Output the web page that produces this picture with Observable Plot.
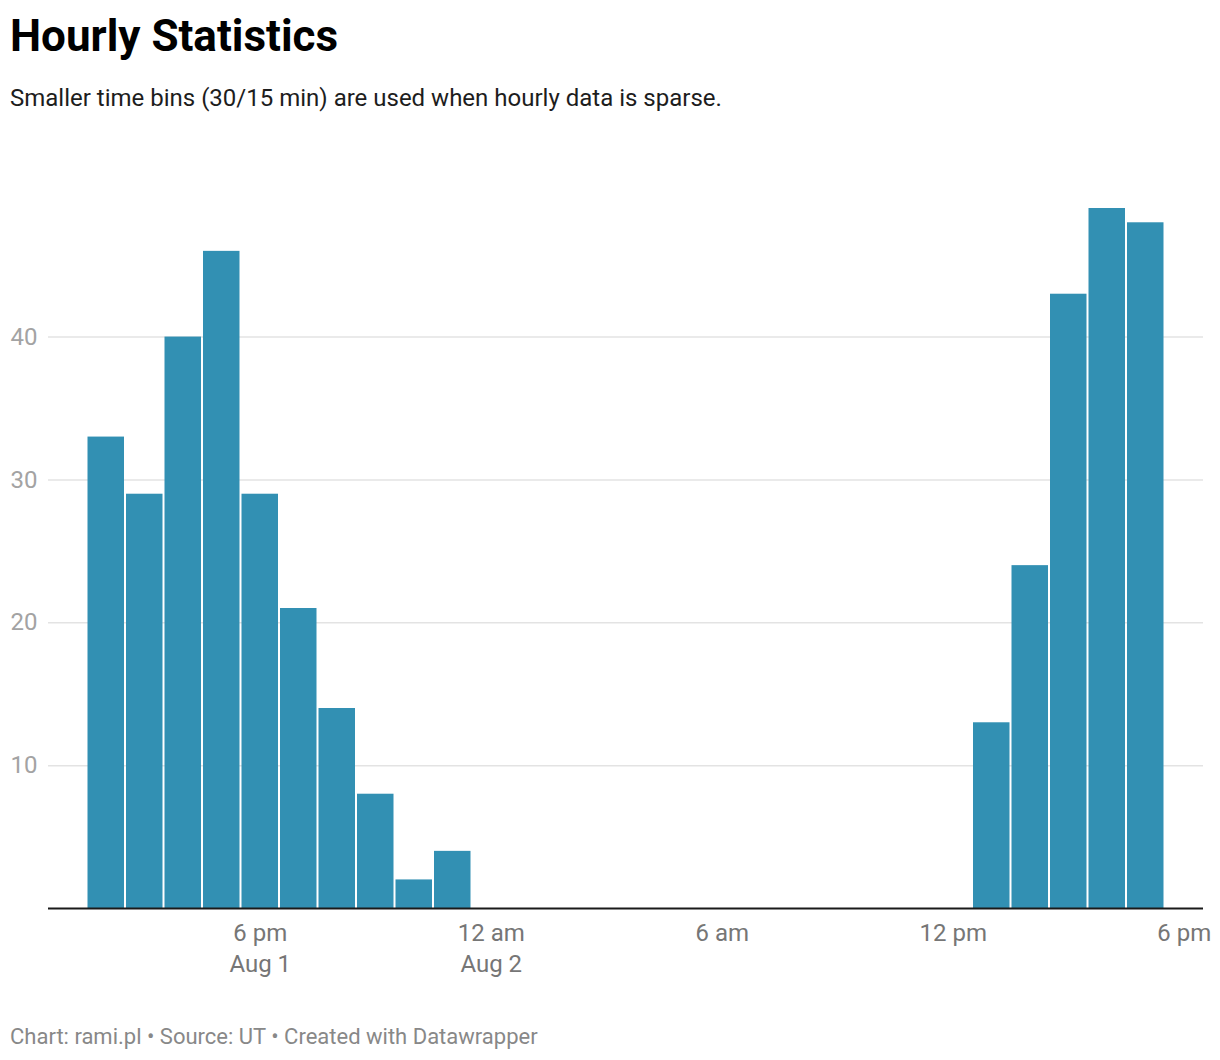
<!DOCTYPE html>
<html><head><meta charset="utf-8">
<script src="https://cdn.jsdelivr.net/npm/d3@7"></script>
<script src="https://cdn.jsdelivr.net/npm/@observablehq/plot@0.6"></script>
<style>
body{margin:0;background:#fff;font-family:Roboto,sans-serif;}
#wrap{position:relative;width:1220px;height:1060px;}
.t{position:absolute;left:10px;white-space:nowrap;line-height:1;}
</style></head><body>
<div id="wrap">
<div class="t" style="top:14px;font-size:44px;font-weight:700;color:#000">Hourly Statistics</div>
<div class="t" style="top:86px;font-size:24px;color:#1d1d1d">Smaller time bins (30/15 min) are used when hourly data is sparse.</div>
<div id="chart" style="position:absolute;left:0;top:140px"></div>
<div class="t" style="top:1025.5px;font-size:22px;color:#888">Chart: rami.pl • Source: UT • Created with Datawrapper</div>
</div>
<script>
const binStarts = [
  "2024-08-01T13:30Z","2024-08-01T14:30Z","2024-08-01T15:30Z","2024-08-01T16:30Z","2024-08-01T17:30Z",
  "2024-08-01T18:30Z","2024-08-01T19:30Z","2024-08-01T20:30Z","2024-08-01T21:30Z","2024-08-01T22:30Z",
  "2024-08-02T12:30Z","2024-08-02T13:30Z","2024-08-02T14:30Z","2024-08-02T15:30Z","2024-08-02T16:30Z"
];
const counts = [33, 29, 40, 46, 29, 21, 14, 8, 2, 4, 13, 24, 43, 49, 48];
const xDomain = ["2024-08-01T12:30Z", "2024-08-02T18:30Z"];
const xTicks = ["2024-08-01T18:00Z","2024-08-02T00:00Z","2024-08-02T06:00Z","2024-08-02T12:00Z","2024-08-02T18:00Z"];
const xTickLabels = ["6 pm\nAug 1", "12 am\nAug 2", "6 am", "12 pm", "6 pm"];
const yTicks = [10, 20, 30, 40];
const yMax = 49;

const data = binStarts.map((s, i) => {
  const x1 = new Date(s);
  return {x1, x2: d3.utcHour.offset(x1, 1), y: counts[i]};
});
const tickDates = xTicks.map(s => new Date(s));

const chart = Plot.plot({
  width: 1220,
  height: 848,
  marginTop: 68,
  marginBottom: 80,
  marginLeft: 48,
  marginRight: 17,
  style: {fontFamily: "Roboto, sans-serif", background: "#fff"},
  x: {type: "utc", domain: xDomain.map(s => new Date(s))},
  y: {domain: [0, yMax]},
  marks: [
    Plot.gridY(yTicks, {stroke: "#e3e3e3", strokeOpacity: 1, strokeWidth: 1.5}),
    Plot.rectY(data, {x1: "x1", x2: "x2", y: "y", fill: "#3290b3", insetLeft: 1, insetRight: 1}),
    Plot.ruleY([0], {stroke: "#1a1a1a", strokeWidth: 2}),
    Plot.axisY(yTicks, {tickSize: 0, tickPadding: 0, textAnchor: "start", dx: -38, fontSize: 24, fill: "#a3a3a3", label: null}),
    Plot.axisX(tickDates, {tickSize: 0, tickPadding: 11, fontSize: 24, fill: "#767676", lineHeight: 1.27, label: null,
      tickFormat: d => xTickLabels[tickDates.findIndex(t => +t === +d)]})
  ]
});
document.getElementById("chart").appendChild(chart);
</script>
</body></html>
